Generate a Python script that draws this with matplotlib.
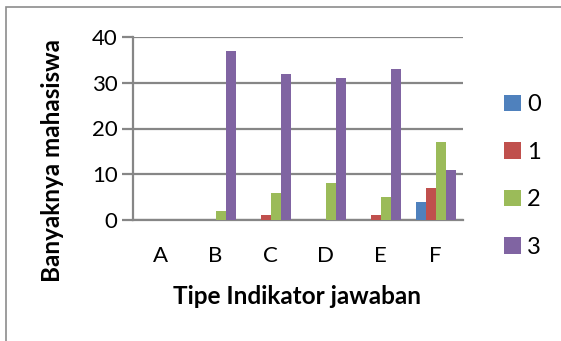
import numpy as np
import matplotlib
matplotlib.use("Agg")
import matplotlib.pyplot as plt
from matplotlib.patches import Rectangle

plt.rcParams['font.family'] = ['Lato', 'DejaVu Sans']

categories = ["A", "B", "C", "D", "E", "F"]
series_names = ["0", "1", "2", "3"]
s0 = [0, 0, 0, 0, 0, 4]
s1 = [0, 0, 1, 0, 1, 7]
s2 = [0, 2, 6, 8, 5, 17]
s3 = [0, 37, 32, 31, 33, 11]
yticks = [0, 10, 20, 30, 40]
colors = ["#4F81BD", "#C0504D", "#9BBB59", "#8064A2"]

W, H = 561, 341
fig = plt.figure(figsize=(W / 100, H / 100), dpi=100)
ax = fig.add_axes([133 / W, 1 - 220 / H, 330 / W, 183 / H])

# outer chart frame
fig.add_artist(Rectangle((6 / W, -0.02), 1.0, 1 - 7 / H + 0.02,
                         transform=fig.transFigure, fill=False,
                         edgecolor="#8C8C8C", linewidth=1.2))

x = np.arange(len(categories))
n = len(series_names)
bw = 1 / (n + 1.5)
for i, (vals, c, name) in enumerate(zip([s0, s1, s2, s3], colors, series_names)):
    ax.bar(x + (i - (n - 1) / 2) * bw, vals, width=bw, color=c, label=name,
           edgecolor="none", zorder=3)

ax.set_xlim(-0.5, len(categories) - 0.5)
ax.set_ylim(0, 40)
ax.set_yticks(yticks)
ax.set_xticks(x)
ax.set_xticklabels(categories)
ax.yaxis.grid(True, color="#868686", linewidth=1.6, zorder=0)
ax.set_axisbelow(True)
for side in ["top", "right"]:
    ax.spines[side].set_visible(False)
ax.spines["left"].set_color("#868686")
ax.spines["left"].set_linewidth(1.6)
ax.spines["bottom"].set_color("#868686")
ax.spines["bottom"].set_linewidth(1.6)
ax.tick_params(axis="y", length=8, width=1.6, color="#868686", labelsize=16, pad=3)
ax.tick_params(axis="x", length=0, labelsize=16, pad=19)

fig.text(297 / W, 1 - 296 / H, "Tipe Indikator jawaban", fontsize=17.5,
         fontweight="bold", ha="center", va="center")
fig.text(53 / W, 1 - 160 / H, "Banyaknya mahasiswa", fontsize=17.5,
         fontweight="bold", ha="center", va="center", rotation=90)

ax.legend(loc="center left", bbox_to_anchor=(504 / W, 1 - 176 / H),
          bbox_transform=fig.transFigure, frameon=False, fontsize=17,
          handlelength=0.72, handleheight=0.72, handletextpad=0.25,
          labelspacing=1.12, borderaxespad=0, borderpad=0)

fig.savefig("out.png", dpi=100)
